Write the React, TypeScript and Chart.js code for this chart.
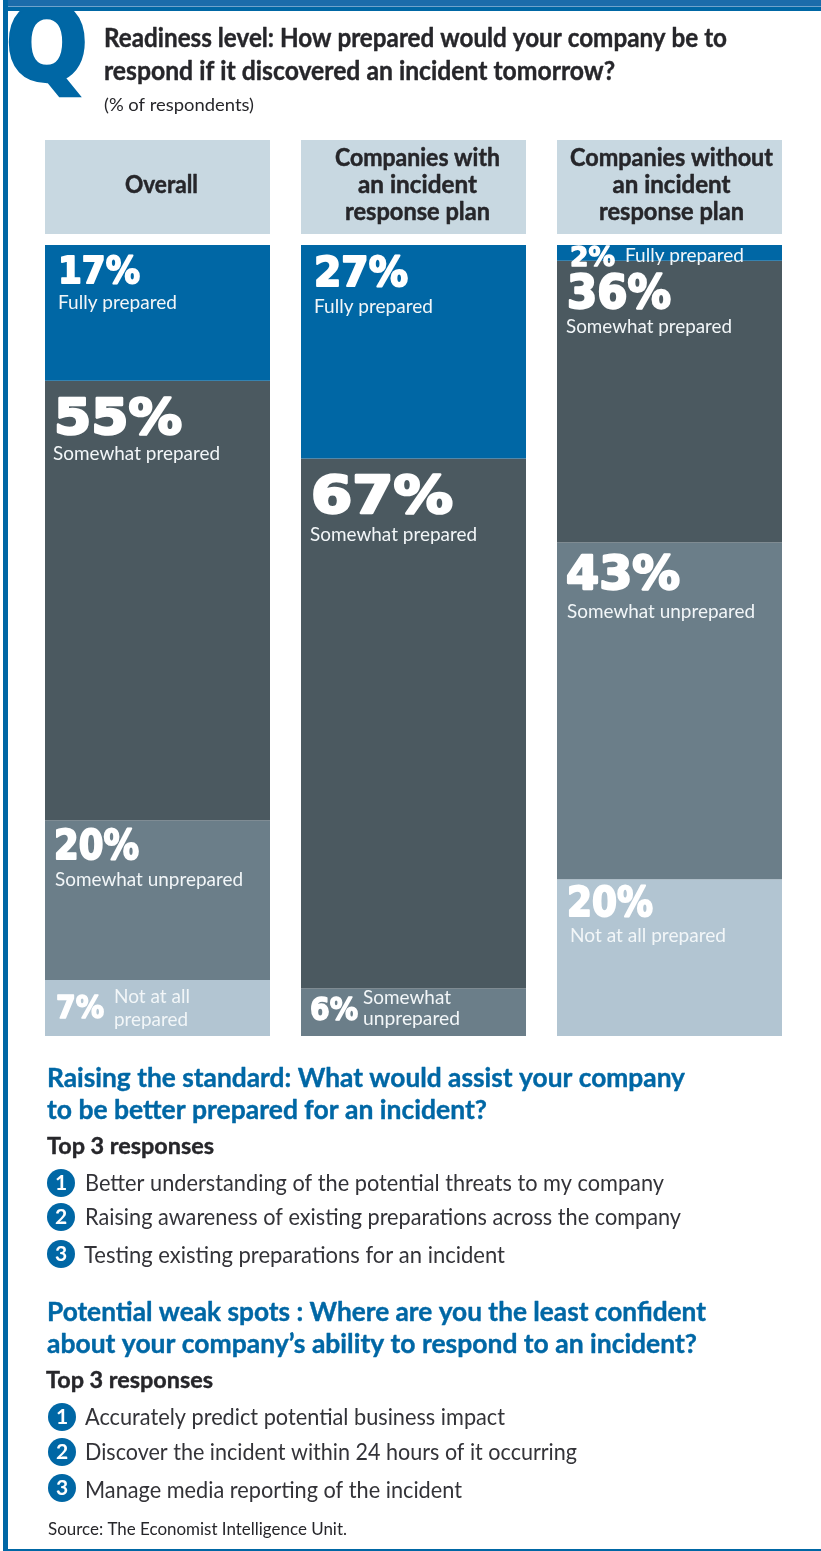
import React, { useEffect, useRef } from "react";
import { Chart, registerables } from "chart.js";

Chart.register(...registerables);

const columns = ["Overall", "Companies with an incident response plan", "Companies without an incident response plan"];
const levels = ["Fully prepared", "Somewhat prepared", "Somewhat unprepared", "Not at all prepared"];
const fullyPrepared = [17, 27, 2];
const somewhatPrepared = [55, 67, 36];
const somewhatUnprepared = [20, 6, 43];
const notAtAllPrepared = [7, 0, 20];
const levelColors = ["#0067a5", "#4b5960", "#6b7e89", "#b2c5d2"];

const FONT = "Lato";
const BLUE = "#0067a5";
const INK = "#26262a";
const HEADER_FILL = "#c8d8e1";

type Line = [string, number, number, number];
type SegmentLabel = { num: [number, number, number, number]; lines: Line[] };

// Offsets are measured from the top-left corner of each segment.
const segmentLabels: SegmentLabel[][] = [
  [
    { num: [13, 38, 82, 37], lines: [["Fully prepared", 13, 64, 119]] },
    { num: [9, 53, 128, 50], lines: [["Somewhat prepared", 8, 79, 167]] },
    { num: [9, 39, 85, 40], lines: [["Somewhat unprepared", 10, 66, 188]] },
    { num: [11, 38, 48, 32], lines: [["Not at all", 69, 23, 76], ["prepared", 69, 46, 74]] },
  ],
  [
    { num: [13, 41, 94, 40], lines: [["Fully prepared", 13, 68, 119]] },
    { num: [10, 54, 142, 52], lines: [["Somewhat prepared", 9, 82, 167]] },
    { num: [9, 31, 48, 32], lines: [["Somewhat", 62, 15, 88], ["unprepared", 62, 36, 97]] },
    { num: [0, 0, 0, 0], lines: [] },
  ],
  [
    { num: [13, 21, 45, 26], lines: [["Fully prepared", 68, 17, 119]] },
    { num: [10, 47, 104, 46], lines: [["Somewhat prepared", 9, 72, 166]] },
    { num: [9, 46, 114, 46], lines: [["Somewhat unprepared", 10, 75, 188]] },
    { num: [10, 37, 86, 40], lines: [["Not at all prepared", 13, 63, 156]] },
  ],
];

const headerLines: [string, number, number][][] = [
  [["Overall", 193, 73]],
  [["Companies with", 166, 165], ["an incident", 193, 119], ["response plan", 220, 145]],
  [["Companies without", 166, 203], ["an incident", 193, 118], ["response plan", 220, 145]],
];
const headerTextShift = [4, 4, 2];

const titleLines: [string, number, number, number][] = [
  ["Readiness level: How prepared would your company be to", 104, 47, 623],
  ["respond if it discovered an incident tomorrow?", 104, 80, 511],
];
const unitNote = "(% of respondents)";

const raisingHeading: [string, number, number, number][] = [
  ["Raising the standard: What would assist your company", 47, 1087, 638],
  ["to be better prepared for an incident?", 47, 1119, 440],
];
const weakSpotsHeading: [string, number, number, number][] = [
  ["Potential weak spots : Where are you the least confident", 47, 1321, 659],
  ["about your company\u2019s ability to respond to an incident?", 47, 1353, 650],
];
const topResponses = "Top 3 responses";
const raisingItems: [string, number, number, number, number][] = [
  ["Better understanding of the potential threats to my company", 85, 1191, 579, 1183],
  ["Raising awareness of existing preparations across the company", 85, 1225, 596, 1217],
  ["Testing existing preparations for an incident", 84, 1263, 421, 1254],
];
const weakSpotsItems: [string, number, number, number, number][] = [
  ["Accurately predict potential business impact", 85, 1425, 420, 1417],
  ["Discover the incident within 24 hours of it occurring", 85, 1460, 492, 1452],
  ["Manage media reporting of the incident", 85, 1498, 377, 1488],
];
const sourceNote = "Source: The Economist Intelligence Unit.";

// Draws one line of text squeezed or stretched to an exact width; `heavy` thickens the strokes.
function fitText(
  ctx: CanvasRenderingContext2D,
  text: string,
  x: number,
  y: number,
  font: string,
  color: string,
  width: number,
  heavy = 0
) {
  ctx.save();
  ctx.font = font;
  ctx.fillStyle = color;
  ctx.textAlign = "left";
  ctx.textBaseline = "alphabetic";
  const natural = ctx.measureText(text).width;
  ctx.translate(x, y);
  ctx.scale(width / natural, 1);
  if (heavy > 0) {
    ctx.strokeStyle = color;
    ctx.lineWidth = heavy;
    ctx.lineJoin = "round";
    ctx.strokeText(text, 0, 0);
  }
  ctx.fillText(text, 0, 0);
  ctx.restore();
}

const framePlugin = {
  id: "frame",
  beforeDraw(chart: Chart) {
    const ctx = chart.ctx;
    ctx.save();
    ctx.fillStyle = "#ffffff";
    ctx.fillRect(0, 0, chart.width, chart.height);

    // Page rules: top band, left border, bottom hairline.
    ctx.fillStyle = "#1b6cab";
    ctx.fillRect(3, 0, 818, 6);
    ctx.fillStyle = "#6fa3cc";
    ctx.fillRect(3, 6, 818, 1);
    ctx.fillStyle = BLUE;
    ctx.fillRect(3, 7, 818, 4);
    ctx.fillRect(3, 0, 5, 1551);
    ctx.fillRect(3, 1549, 818, 2);

    // Large question initial, cut off by the band above it and the border beside it.
    ctx.save();
    ctx.beginPath();
    ctx.rect(8, 11, 100, 100);
    ctx.clip();
    ctx.translate(6, 80);
    ctx.scale(1.0, 1.08);
    ctx.font = "bold 96px 'DejaVu Sans'";
    ctx.fillStyle = BLUE;
    ctx.strokeStyle = BLUE;
    ctx.lineWidth = 4;
    ctx.lineJoin = "miter";
    ctx.textBaseline = "alphabetic";
    ctx.strokeText("Q", 0, 0);
    ctx.fillText("Q", 0, 0);
    ctx.restore();

    titleLines.forEach(([t, x, y, w]) => fitText(ctx, t, x, y, `bold 26px ${FONT}`, INK, w, 0.4));
    fitText(ctx, unitNote, 104, 111, `18px ${FONT}`, INK, 150);

    // Column heading boxes sit directly above the bars; their text runs slightly right of centre.
    const bars = chart.getDatasetMeta(0).data[0] as any;
    headerLines.forEach((lines, c) => {
      const cx = chart.scales.x.getPixelForTick(c);
      const w = bars.width;
      ctx.fillStyle = HEADER_FILL;
      ctx.fillRect(cx - w / 2, 140, w, 94);
      lines.forEach(([t, y, tw]) =>
        fitText(ctx, t, cx + headerTextShift[c] - tw / 2, y, `bold 25px ${FONT}`, INK, tw, 0.5)
      );
    });

    const drawBlock = (
      heading: [string, number, number, number][],
      topX: number,
      topY: number,
      items: [string, number, number, number, number][],
      circleX: number
    ) => {
      heading.forEach(([t, x, y, w]) => fitText(ctx, t, x, y, `bold 27px ${FONT}`, BLUE, w, 0.4));
      fitText(ctx, topResponses, topX, topY, `bold 23px ${FONT}`, INK, 167, 0.4);
      items.forEach(([t, x, y, w, cy], i) => {
        ctx.fillStyle = BLUE;
        ctx.beginPath();
        ctx.arc(circleX, cy, 14, 0, Math.PI * 2);
        ctx.fill();
        ctx.fillStyle = "#ffffff";
        ctx.font = `bold 21px ${FONT}`;
        ctx.textAlign = "center";
        ctx.textBaseline = "middle";
        ctx.fillText(String(i + 1), circleX, cy);
        ctx.textAlign = "left";
        ctx.textBaseline = "alphabetic";
        fitText(ctx, t, x, y, `23px ${FONT}`, "#333338", w);
      });
    };
    drawBlock(raisingHeading, 47, 1154, raisingItems, 61);
    drawBlock(weakSpotsHeading, 46, 1388, weakSpotsItems, 62);
    fitText(ctx, sourceNote, 48, 1535, `17px ${FONT}`, INK, 299);
    ctx.restore();
  },
};

const segmentLabelPlugin = {
  id: "segmentLabels",
  afterDatasetsDraw(chart: Chart) {
    const ctx = chart.ctx;
    chart.data.datasets.forEach((ds: any, i) => {
      const c: number = ds.columnIndex;
      const l: number = ds.levelIndex;
      const spec = segmentLabels[c][l];
      const value = ds.data[c];
      if (!value) return;
      const bar = chart.getDatasetMeta(i).data[c] as any;
      const left = bar.x - bar.width / 2;
      const top = Math.min(bar.y, bar.base);
      const [dx, dy, w, size] = spec.num;
      fitText(ctx, `${value}%`, left + dx, top + dy, `bold ${size}px 'DejaVu Sans'`, "#ffffff", w, size * 0.05);
      spec.lines.forEach(([t, lx, ly, lw]) => fitText(ctx, t, left + lx, top + ly, `20px ${FONT}`, "#f2f6f8", lw));
    });
  },
};

export default function App() {
  const ref = useRef<HTMLCanvasElement>(null);

  useEffect(() => {
    const series = [fullyPrepared, somewhatPrepared, somewhatUnprepared, notAtAllPrepared];
    const datasets: any[] = [];
    columns.forEach((_, c) => {
      series.forEach((values, l) => {
        datasets.push({
          label: levels[l],
          data: columns.map((__, k) => (k === c ? values[k] : null)),
          backgroundColor: levelColors[l],
          borderWidth: 0,
          yAxisID: `y${c}`,
          stack: "all",
          columnIndex: c,
          levelIndex: l,
        });
      });
    });

    // The published shares round to 99, 100 and 101, so each column gets its own full-height scale.
    const yScales: any = {};
    columns.forEach((_, c) => {
      yScales[`y${c}`] = {
        display: false,
        stacked: true,
        reverse: true,
        min: 0,
        max: series.reduce((sum, values) => sum + values[c], 0),
      };
    });

    const chart = new Chart(ref.current!, {
      type: "bar",
      data: { labels: columns, datasets },
      plugins: [framePlugin, segmentLabelPlugin],
      options: {
        responsive: false,
        animation: false,
        barPercentage: 1,
        categoryPercentage: 225 / 256,
        layout: { padding: { left: 29.5, right: 23.5, top: 245, bottom: 515 } },
        plugins: { legend: { display: false }, tooltip: { enabled: false } },
        scales: {
          x: { display: false, stacked: true },
          ...yScales,
        },
      } as any,
    });
    return () => chart.destroy();
  }, []);

  return (
    <canvas
      ref={ref}
      width={821}
      height={1551}
      style={{ position: "absolute", left: 0, top: 0, display: "block" }}
    />
  );
}
